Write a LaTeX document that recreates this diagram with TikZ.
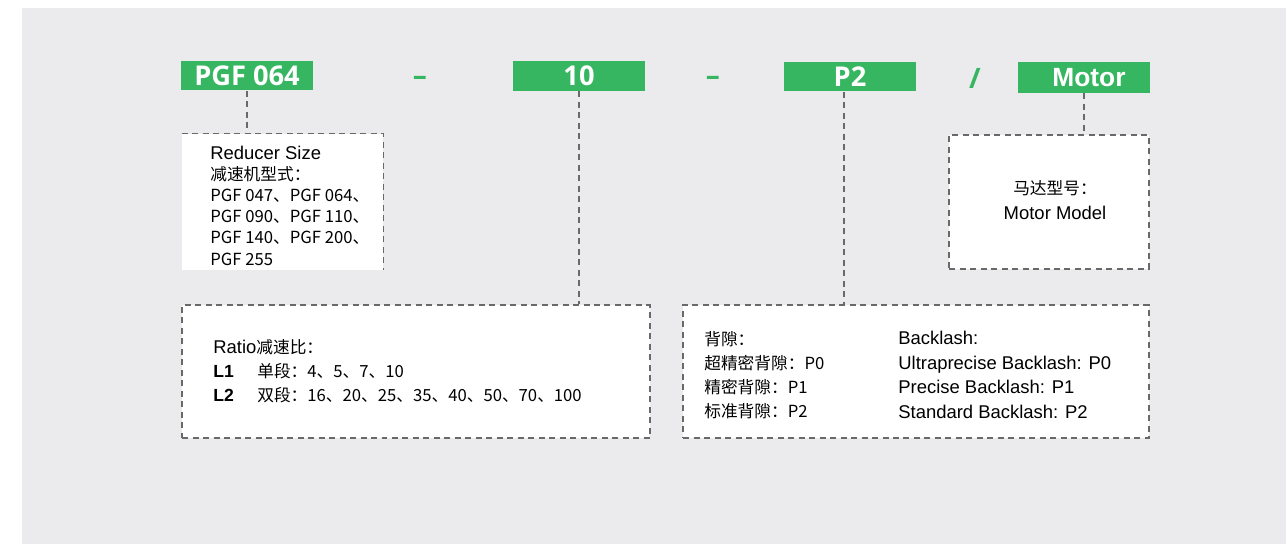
\documentclass[tikz,border=0pt]{standalone}
\usepackage{fontspec}
\setmainfont{Liberation Sans}
\newfontfamily\cjk{Noto Sans CJK SC}
\newfontfamily\headfont{Open Sans}
\usepackage{tikz}
\usetikzlibrary{positioning}
\definecolor{codegreen}{RGB}{54,182,97}
\definecolor{panelgray}{RGB}{235,235,237}
\definecolor{dashgray}{RGB}{105,105,105}

\begin{document}
\begin{tikzpicture}[
  x=0.02cm, y=-0.02cm,
  codebox/.style={fill=codegreen, text=white, minimum width=2.64cm, minimum height=0.6cm, inner sep=0pt, font=\headfont\bfseries\fontsize{15.5}{18}\selectfont},
  codesep/.style={text=codegreen, inner sep=0pt, font=\headfont\bfseries\fontsize{16}{18}\selectfont},
  infobox/.style={fill=white, inner sep=0pt},
  dashline/.style={draw=dashgray, dash pattern=on 0.12cm off 0.09cm, line width=0.7pt},
  bodytext/.style={align=left, inner sep=0pt, anchor=base west}
]
\useasboundingbox (0,0) rectangle (1286,544);
\fill[panelgray] (22,8) rectangle (1286,544);

% model code
\node[codebox] (size) at (247,75.5) {PGF 064};
\node[codesep] (sep1) at (420,81) {–};
\node[codebox] (ratio) at (579,76) {10};
\node[codesep] (sep2) at (713,81) {–};
\node[codebox] (lash) at (850,76.5) {P2};
\node[codesep] (sep3) at (975,78) {/};
\node[codebox, minimum height=0.62cm, font=\bfseries\fontsize{15}{18}\selectfont] (motor) at (1084,77.5) {\hspace{0.2cm}Motor};

% info boxes
\node[infobox, minimum width=4.02cm, minimum height=2.72cm] (sizeinfo) at (282.5,202) {};
\draw[dashline] (sizeinfo.north west) -- (sizeinfo.north east) -- (sizeinfo.south east);
\node[infobox, dashline, minimum width=9.36cm, minimum height=2.66cm] (ratioinfo) at (416,371.5) {};
\node[infobox, dashline, minimum width=9.32cm, minimum height=2.66cm] (lashinfo) at (916,371.5) {};
\node[infobox, dashline, minimum width=4cm, minimum height=2.68cm] (motorinfo) at (1049,202) {};

\draw[dashline] (size) -- (size |- sizeinfo.north);
\draw[dashline] (ratio) -- (ratio |- ratioinfo.north);
\draw[dashline] ([xshift=-0.12cm]lash.south) -- ([xshift=-0.12cm]lash.south |- lashinfo.north);
\draw[dashline] (motor) -- (motor |- motorinfo.north);

% texts (base = last line)
\node[bodytext, font=\fontsize{10.5}{12}\selectfont] (sizetext) at (210,265)
  {Reducer Size\\
   {\cjk\fontsize{9.5}{12}\selectfont 减速机型式：}\\
   {\cjk\fontsize{9.5}{12}\selectfont PGF 047、PGF 064、}\\
   {\cjk\fontsize{9.5}{12}\selectfont PGF 090、PGF 110、}\\
   {\cjk\fontsize{9.5}{12}\selectfont PGF 140、PGF 200、}\\
   {\cjk\fontsize{9.5}{12}\selectfont PGF 255}};
\node[bodytext, font=\fontsize{10.5}{13.6}\selectfont] (ratiotext) at (213,401)
  {Ratio{\cjk\fontsize{9.5}{13.6}\selectfont 减速比：}\\
   \makebox[0.88cm][l]{\bfseries\fontsize{10}{13.6}\selectfont L1}{\cjk\fontsize{9.5}{13.6}\selectfont 单段：4、5、7、10}\\
   \makebox[0.88cm][l]{\bfseries\fontsize{10}{13.6}\selectfont L2}{\cjk\fontsize{9.5}{13.6}\selectfont 双段：16、20、25、35、40、50、70、100}};
\node[bodytext, font=\cjk\fontsize{9.5}{13.6}\selectfont] (lashcn) at (704,417)
  {背隙：\\超精密背隙：P0\\精密背隙：P1\\标准背隙：P2};
\node[bodytext, font=\fontsize{10.5}{13.9}\selectfont] (lashen) at (898,418)
  {Backlash:\\Ultraprecise Backlash: P0\\Precise Backlash: P1\\Standard Backlash: P2};
\node[bodytext, align=center, anchor=base, font=\fontsize{10.5}{14.2}\selectfont] (motortext) at (1055,219)
  {{\cjk\fontsize{9.5}{14.2}\selectfont 马达型号：}\\Motor Model};
\end{tikzpicture}
\end{document}
